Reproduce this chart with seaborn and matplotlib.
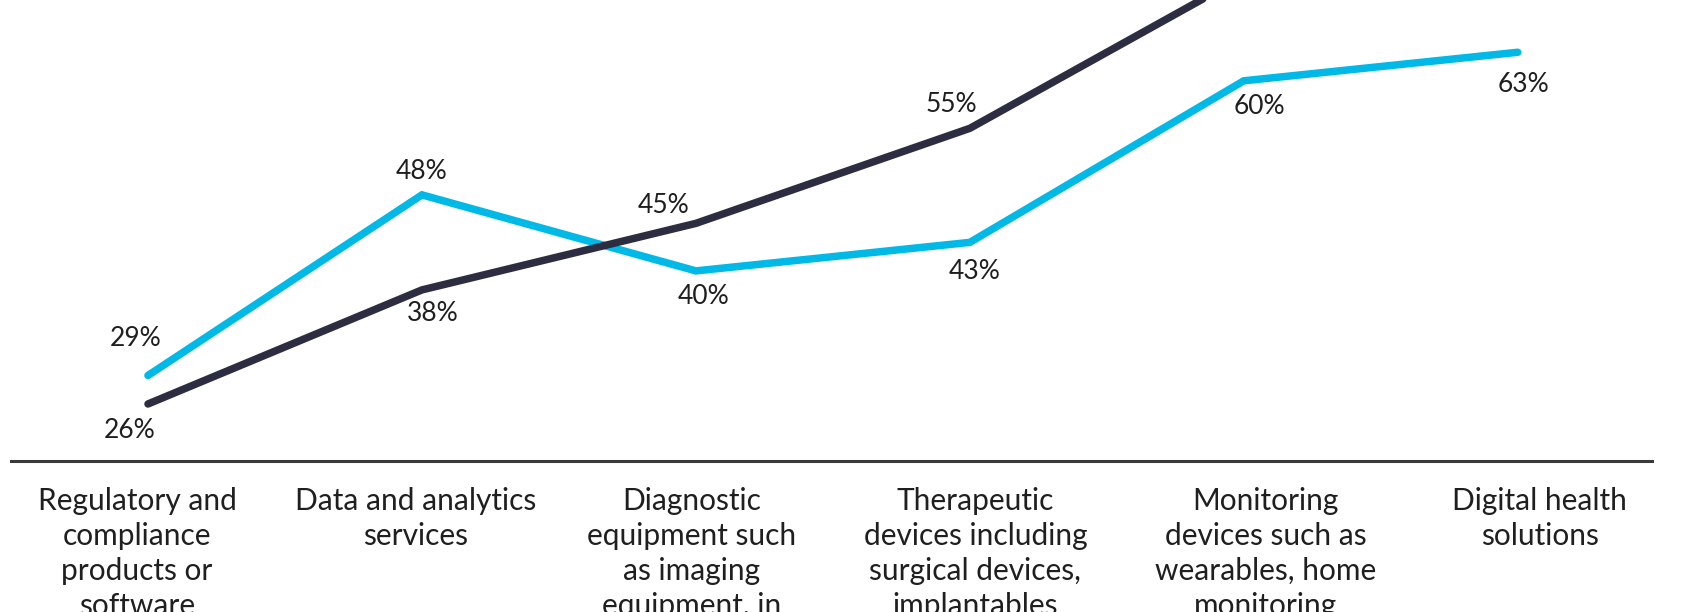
import matplotlib
matplotlib.use("Agg")
import matplotlib.pyplot as plt
import seaborn as sns
import pandas as pd

categories = [
    "Regulatory and\ncompliance\nproducts or\nsoftware",
    "Data and analytics\nservices",
    "Diagnostic\nequipment such\nas imaging\nequipment, in",
    "Therapeutic\ndevices including\nsurgical devices,\nimplantables",
    "Monitoring\ndevices such as\nwearables, home\nmonitoring",
    "Digital health\nsolutions",
]
series_cyan = [29, 48, 40, 43, 60, 63]
series_dark = [26, 38, 45, 55, 71, 74]
labels_cyan = ["29%", "48%", "40%", "43%", "60%", "63%"]
labels_dark = ["26%", "38%", "45%", "55%", "", ""]

sns.set_theme(style="white")
plt.rcParams["font.family"] = ["Lato", "DejaVu Sans"]

df = pd.DataFrame({
    "x": list(range(len(categories))) * 2,
    "value": series_cyan + series_dark,
    "series": ["cyan"] * 6 + ["dark"] * 6,
})

fig = plt.figure(figsize=(17.08, 6.12), dpi=100)
ax = fig.add_axes([11 / 1708, (612 - 461) / 612, 1641 / 1708, 461 / 612])

palette = {"cyan": "#00B9E6", "dark": "#2D2D42"}
sns.lineplot(data=df, x="x", y="value", hue="series", palette=palette,
             linewidth=5.4, ax=ax, legend=False, sort=False,
             solid_capstyle="round", solid_joinstyle="miter")

ax.set_xlim(-0.5, 5.49)
ax.set_ylim(20, 68.5)

# label offsets in points
off_cyan = [(-8.6, 26.6), (0, 17), (5.8, -18.7), (3.6, -20.9), (11.5, -18.7), (4.3, -23)]
off_dark = [(-13, -19.4), (7.9, -17.3), (-23, 13), (-13, 17.3), (0, 0), (0, 0)]
for i, (v, lab) in enumerate(zip(series_cyan, labels_cyan)):
    ax.annotate(lab, (i, v), xytext=off_cyan[i], textcoords="offset points",
                ha="center", va="center", fontsize=19, color="#1f1f1f")
for i, (v, lab) in enumerate(zip(series_dark, labels_dark)):
    if lab:
        ax.annotate(lab, (i, v), xytext=off_dark[i], textcoords="offset points",
                    ha="center", va="center", fontsize=19, color="#1f1f1f")

for s in ["top", "right", "left"]:
    ax.spines[s].set_visible(False)
ax.spines["bottom"].set_color("#3a3a3a")
ax.spines["bottom"].set_linewidth(2.2)
ax.set_yticks([])
ax.set_ylabel("")
ax.set_xlabel("")

tick_pos = [-0.04, 0.978, 1.985, 3.02, 4.08, 5.08]
ax.set_xticks(tick_pos)
ax.set_xticklabels(categories, fontsize=21.5, color="#1f1f1f",
                   linespacing=1.3, va="top")
ax.tick_params(axis="x", length=0, pad=19)

fig.savefig("out.png", dpi=100, facecolor="white")
